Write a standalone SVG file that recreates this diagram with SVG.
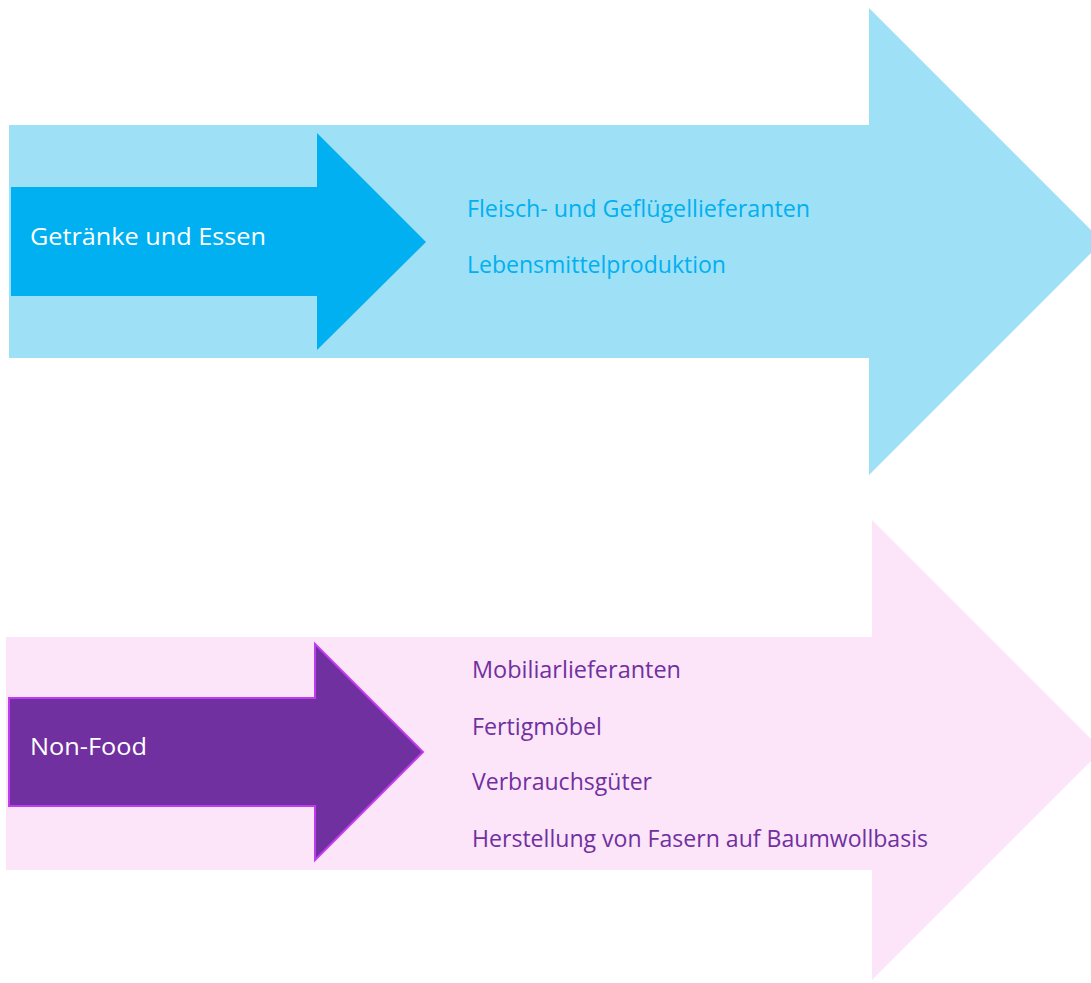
<svg xmlns="http://www.w3.org/2000/svg" width="1091" height="983" viewBox="0 0 1091 983">
<style>
text{font-family:"Open Sans","Noto Sans","Liberation Sans",sans-serif;font-size:23px}
.w{fill:#FFFFFF}
.b{fill:#00B0F0}
.p{fill:#7030A0}
</style>
<rect width="1091" height="983" fill="#FFFFFF"/>
<g id="food-band">
<polygon points="9,125 869,125 869,8 1102.5,241.5 869,475 869,358 9,358" fill="#9EE0F6"/>
</g>
<g id="food-arrow">
<polygon points="11,187 317,187 317,133 426,242 317,350 317,296 11,296" fill="#00B0F0"/>
<text class="w" x="30" y="245" textLength="236" lengthAdjust="spacingAndGlyphs">Getränke und Essen</text>
</g>
<g id="food-items">
<text class="b" x="467" y="217" textLength="343" lengthAdjust="spacingAndGlyphs">Fleisch- und Geflügellieferanten</text>
<text class="b" x="467" y="273" textLength="259" lengthAdjust="spacingAndGlyphs">Lebensmittelproduktion</text>
</g>
<g id="nonfood-band">
<polygon points="6,637 872,637 872,520 1102,750 872,980 872,870 6,870" fill="#FCE5F9"/>
</g>
<g id="nonfood-arrow">
<polygon points="9,698 315,698 315,644 423,752 315,860 315,806 9,806" fill="#7030A0" stroke="#C03CF0" stroke-width="2"/>
<text class="w" x="30" y="755" textLength="117" lengthAdjust="spacingAndGlyphs">Non-Food</text>
</g>
<g id="nonfood-items">
<text class="p" x="472" y="678" textLength="209" lengthAdjust="spacingAndGlyphs">Mobiliarlieferanten</text>
<text class="p" x="472" y="735" textLength="130" lengthAdjust="spacingAndGlyphs">Fertigmöbel</text>
<text class="p" x="472" y="790" textLength="180" lengthAdjust="spacingAndGlyphs">Verbrauchsgüter</text>
<text class="p" x="472" y="847" textLength="456" lengthAdjust="spacingAndGlyphs">Herstellung von Fasern auf Baumwollbasis</text>
</g>
<g id="connectors"></g>
</svg>
